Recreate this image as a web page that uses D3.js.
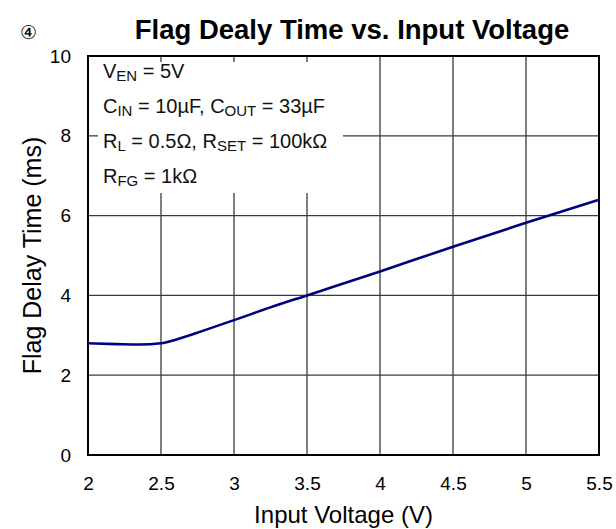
<!DOCTYPE html>
<html>
<head>
<meta charset="utf-8">
<script src="https://cdn.jsdelivr.net/npm/d3@7"></script>
<style>
  body { margin: 0; background: #fff; }
  text { font-family: Arial, "Liberation Sans", sans-serif; }
</style>
</head>
<body>
<div id="chart"></div>
<script>
// ===========================================
// Data
var voltage = [2, 2.2, 2.35, 2.5, 2.6, 2.8, 3, 3.25, 3.5, 4, 4.5, 5, 5.5];
var delay = [2.80, 2.78, 2.77, 2.80, 2.89, 3.13, 3.38, 3.70, 4.00, 4.60, 5.22, 5.82, 6.40];

var xTicks = [2, 2.5, 3, 3.5, 4, 4.5, 5, 5.5];
var yTicks = [0, 2, 4, 6, 8, 10];

var noteLines = [
    [["V", ""], ["EN", "sub"], [" = 5V", ""]],
    [["C", ""], ["IN", "sub"], [" = 10\u00B5F, C", ""], ["OUT", "sub"], [" = 33\u00B5F", ""]],
    [["R", ""], ["L", "sub"], [" = 0.5\u03A9, R", ""], ["SET", "sub"], [" = 100k\u03A9", ""]],
    [["R", ""], ["FG", "sub"], [" = 1k\u03A9", ""]]
];

// ===========================================
// Set up SVG element & chart area
var svgWidth = 616;
var svgHeight = 529;
var margin = {top: 56, right: 17, bottom: 74, left: 88};
var chartWidth = svgWidth - margin.left - margin.right;
var chartHeight = svgHeight - margin.top - margin.bottom;

var svg = d3.select("#chart")
    .append("svg")
    .attr("width", svgWidth)
    .attr("height", svgHeight);

var chartGroup = svg.append("g")
    .attr("transform", `translate(${margin.left},${margin.top})`);

var xscale = d3.scaleLinear().domain([2, 5.5]).range([0, chartWidth]);
var yscale = d3.scaleLinear().domain([0, 10]).range([chartHeight, 0]);

// grid lines
chartGroup.append("g")
    .selectAll("line")
    .data(xTicks.slice(1, -1))
    .enter()
    .append("line")
    .attr("x1", d => xscale(d)).attr("x2", d => xscale(d))
    .attr("y1", 0).attr("y2", chartHeight)
    .attr("stroke", "#3a3a3a").attr("stroke-width", 1.3);

chartGroup.append("g")
    .selectAll("line")
    .data(yTicks.slice(1, -1))
    .enter()
    .append("line")
    .attr("x1", 0).attr("x2", chartWidth)
    .attr("y1", d => yscale(d)).attr("y2", d => yscale(d))
    .attr("stroke", "#3a3a3a").attr("stroke-width", 1.3);

// note box covers the grid
chartGroup.append("rect")
    .attr("x", 10).attr("y", 6)
    .attr("width", 245).attr("height", 131)
    .attr("fill", "#fff");

// frame
chartGroup.append("rect")
    .attr("width", chartWidth).attr("height", chartHeight)
    .attr("fill", "none").attr("stroke", "#000").attr("stroke-width", 2);

// axes (labels only)
var bAxis = d3.axisBottom(xscale).tickValues(xTicks).tickSize(0).tickPadding(22)
    .tickFormat(d3.format("~g"));
var lAxis = d3.axisLeft(yscale).tickValues(yTicks).tickSize(0).tickPadding(17);

chartGroup.append("g")
    .attr("transform", `translate(0, ${chartHeight})`)
    .call(bAxis)
    .call(g => g.select(".domain").remove())
    .selectAll("text")
    .attr("font-size", "19px").attr("fill", "#000")
    .attr("font-family", "Arial, 'Liberation Sans', sans-serif");

chartGroup.append("g")
    .call(lAxis)
    .call(g => g.select(".domain").remove())
    .selectAll("text")
    .attr("font-size", "19px").attr("fill", "#000")
    .attr("font-family", "Arial, 'Liberation Sans', sans-serif");

// curve
var line = d3.line()
    .x((d, i) => xscale(voltage[i]))
    .y(d => yscale(d))
    .curve(d3.curveMonotoneX);

chartGroup.append("path")
    .datum(delay)
    .attr("d", line)
    .attr("fill", "none")
    .attr("stroke", "#000080")
    .attr("stroke-width", 2.6);

// conditions text
noteLines.forEach(function(parts, i) {
    var t = chartGroup.append("text")
        .attr("x", 15)
        .attr("y", 22 + i * 35)
        .attr("font-size", "20px")
        .attr("fill", "#111");
    parts.forEach(function(p) {
        var s = t.append("tspan").text(p[0]);
        if (p[1] == "sub") {
            s.attr("font-size", "15px").attr("dy", 3);
        } else {
            s.attr("dy", t.selectAll("tspan").size() > 1 ? -3 : 0);
        }
    });
});

// titles
svg.append("text")
    .attr("x", 28).attr("y", 39)
    .attr("text-anchor", "middle")
    .attr("font-size", "19px")
    .attr("font-family", "'Noto Sans CJK JP', 'DejaVu Sans', sans-serif")
    .text("\u2463");

svg.append("text")
    .attr("x", 352).attr("y", 39)
    .attr("text-anchor", "middle")
    .attr("font-size", "27.5px")
    .attr("font-weight", "bold")
    .text("Flag Dealy Time vs. Input Voltage");

svg.append("text")
    .attr("x", margin.left + chartWidth / 2).attr("y", 523)
    .attr("text-anchor", "middle")
    .attr("font-size", "24px")
    .text("Input Voltage (V)");

svg.append("text")
    .attr("transform", `translate(41, ${margin.top + chartHeight / 2}) rotate(-90)`)
    .attr("text-anchor", "middle")
    .attr("font-size", "25px")
    .text("Flag Delay Time (ms)");
</script>
</body>
</html>
